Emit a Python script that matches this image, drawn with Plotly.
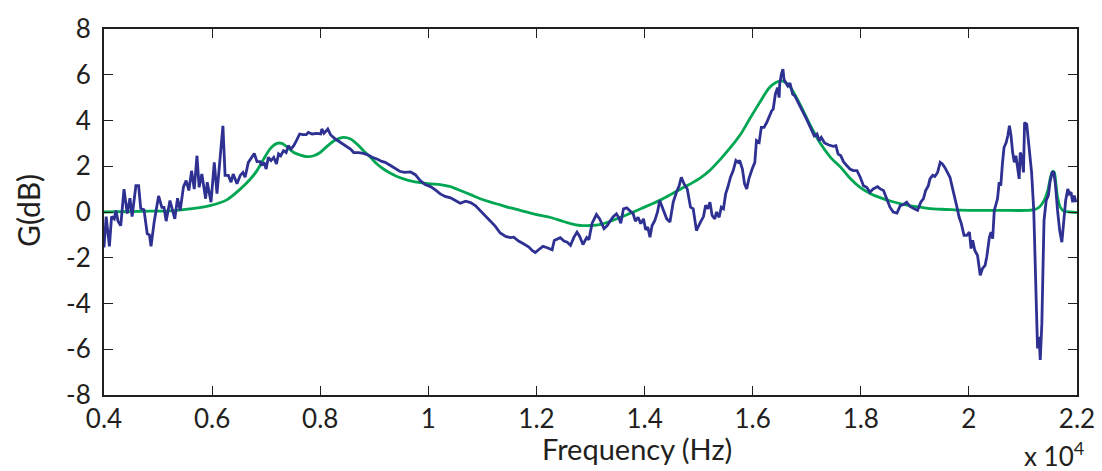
import plotly.graph_objects as go

# Frequency in units of 10^4 Hz, gain in dB
meas_freq = [0.400,0.404,0.410,0.414,0.419,0.422,0.426,0.431,0.437,0.443,0.448,0.452,0.459,0.464,0.468,0.474,0.480,0.484,0.487,0.493,
0.501,0.507,0.511,0.515,0.522,0.527,0.531,0.536,0.541,0.547,0.552,0.557,0.562,0.567,0.572,0.576,0.581,0.588,0.591,0.598,
0.604,0.609,0.614,0.618,0.620,0.624,0.630,0.635,0.639,0.646,0.652,0.657,0.661,0.667,0.678,0.683,0.689,0.692,0.696,0.700,
0.704,0.709,0.714,0.719,0.723,0.727,0.732,0.737,0.741,0.746,0.751,0.756,0.762,0.768,0.774,0.778,0.785,0.794,0.801,0.803,
0.807,0.814,0.819,0.828,0.837,0.846,0.856,0.862,0.871,0.880,0.888,0.896,0.905,0.914,0.920,0.930,0.939,0.947,0.956,0.967,
0.976,0.985,0.994,1.004,1.013,1.022,1.031,1.041,1.050,1.059,1.069,1.078,1.087,1.096,1.106,1.115,1.124,1.133,1.143,1.152,
1.158,1.167,1.176,1.186,1.192,1.198,1.204,1.212,1.220,1.229,1.233,1.241,1.244,1.251,1.257,1.263,1.269,1.275,1.280,1.286,
1.293,1.297,1.303,1.311,1.317,1.325,1.331,1.337,1.342,1.348,1.352,1.356,1.361,1.367,1.373,1.379,1.383,1.388,1.393,1.398,
1.402,1.406,1.410,1.414,1.419,1.424,1.428,1.435,1.441,1.447,1.453,1.459,1.464,1.468,1.473,1.479,1.485,1.490,1.496,1.502,
1.509,1.513,1.517,1.521,1.525,1.530,1.533,1.538,1.542,1.546,1.550,1.554,1.559,1.564,1.569,1.573,1.576,1.581,1.585,1.589,
1.593,1.599,1.604,1.607,1.612,1.616,1.621,1.626,1.630,1.635,1.638,1.642,1.646,1.649,1.650,1.653,1.656,1.658,1.661,1.665,
1.669,1.674,1.678,1.683,1.689,1.695,1.701,1.707,1.714,1.719,1.723,1.727,1.733,1.741,1.749,1.754,1.758,1.763,1.768,1.774,
1.780,1.786,1.793,1.799,1.805,1.811,1.817,1.823,1.831,1.836,1.842,1.848,1.854,1.860,1.867,1.873,1.879,1.885,1.891,1.899,
1.905,1.911,1.916,1.920,1.925,1.928,1.933,1.937,1.942,1.947,1.951,1.956,1.960,1.965,1.970,1.974,1.978,1.982,1.986,1.991,
1.996,2.001,2.004,2.007,2.011,2.016,2.021,2.025,2.030,2.033,2.038,2.041,2.044,2.047,2.050,2.053,2.056,2.059,2.062,2.065,
2.069,2.072,2.075,2.078,2.081,2.084,2.087,2.090,2.093,2.095,2.098,2.101,2.103,2.107,2.112,2.116,2.120,2.122,2.125,2.127,
2.130,2.132,2.135,2.137,2.139,2.143,2.147,2.150,2.154,2.157,2.160,2.164,2.168,2.172,2.175,2.179,2.183,2.186,2.189,2.192,
2.195,2.198]
meas_gain = [-1.55,-0.2,-1.5,-0.2,-0.3,0.06,-0.4,-0.6,1.0,-0.07,0.6,-0.2,1.15,1.15,0.15,0.1,-0.95,-1.0,-1.5,-0.4,
0.7,0.2,0.2,-0.4,0.5,0.07,-0.3,0.6,0.07,1.1,1.37,0.94,1.8,1.0,2.46,1.08,1.66,0.58,1.3,0.43,
2.17,0.8,2.03,3.04,3.77,1.6,1.6,1.3,1.66,1.23,1.6,1.73,1.52,2.17,2.56,2.2,2.2,2.03,2.17,1.88,
2.39,2.25,2.39,2.1,2.54,2.46,2.68,2.6,2.9,2.75,2.9,3.12,3.41,3.38,3.38,3.48,3.41,3.44,3.41,3.63,
3.44,3.63,3.38,3.19,3.04,2.9,2.75,2.6,2.6,2.56,2.5,2.39,2.32,2.21,2.17,2.03,1.88,1.78,1.73,1.75,
1.63,1.37,1.2,1.11,0.97,0.79,0.68,0.62,0.5,0.38,0.47,0.41,0.28,0.07,-0.2,-0.4,-0.63,-0.92,-1.07,-1.12,
-1.1,-1.27,-1.39,-1.53,-1.68,-1.77,-1.65,-1.5,-1.56,-1.65,-1.24,-1.17,-1.12,-1.27,-1.32,-1.46,-1.12,-0.88,-1.07,-1.42,
-1.12,-1.21,-0.49,-0.11,-0.3,-0.73,-0.59,-0.37,-0.2,-0.08,-0.23,-0.49,0.14,0.18,0.07,-0.08,-0.4,-0.23,-0.51,-0.3,
-0.78,-0.66,-1.1,-0.59,-0.37,0.0,0.5,0.07,-0.3,-0.44,0.43,0.86,1.15,1.52,1.23,1.01,0.21,0.14,-0.81,-0.51,
-0.2,0.3,0.14,0.43,-0.15,-0.3,0.0,-0.23,0.21,0.14,0.79,1.08,1.52,1.81,2.25,2.17,2.25,1.88,1.23,1.01,
1.45,1.88,2.17,3.12,3.04,3.7,3.7,3.91,4.13,4.42,4.5,5.15,5.44,5.0,5.59,6.02,6.24,5.8,5.66,5.51,
5.63,5.15,5.08,4.86,4.57,4.28,3.99,3.7,3.33,3.41,3.12,3.26,3.02,2.93,2.87,2.9,2.54,2.46,2.2,2.03,
1.88,1.81,1.81,1.52,1.15,1.08,0.86,1.01,1.11,1.01,0.94,0.58,0.21,0.0,-0.05,0.28,0.33,0.43,0.24,0.14,
0.07,0.43,0.58,0.94,1.15,1.45,1.6,1.55,1.73,2.17,2.1,1.93,1.73,1.52,1.01,0.65,0.21,-0.23,-0.51,-1.02,
-1.02,-0.88,-1.6,-1.24,-1.68,-1.9,-2.77,-2.48,-2.33,-1.97,-1.1,-0.88,-1.17,0.07,0.36,0.58,1.3,1.15,2.1,2.82,
3.04,3.33,3.77,3.33,2.6,2.17,2.46,1.95,1.45,2.6,2.39,1.73,3.91,3.84,2.46,1.73,0.07,-2.11,-4.29,-5.96,
-5.46,-6.47,-4.87,-2.55,-0.37,0.5,0.72,1.3,1.73,1.73,1.23,0.07,-0.81,-1.32,-0.51,0.5,1.01,0.79,0.86,0.43,
0.72,0.43]

model_freq = [0.400,0.467,0.522,0.547,0.596,0.627,0.652,0.670,0.683,0.695,0.707,0.720,0.729,0.738,0.751,0.763,0.775,0.788,0.800,0.812,
0.828,0.843,0.856,0.868,0.880,0.893,0.905,0.917,0.930,0.942,0.954,0.967,0.985,1.004,1.022,1.041,1.059,1.078,1.096,1.115,
1.133,1.152,1.170,1.189,1.207,1.226,1.244,1.263,1.281,1.300,1.319,1.337,1.356,1.374,1.393,1.411,1.430,1.448,1.467,1.485,
1.504,1.522,1.541,1.559,1.578,1.596,1.615,1.630,1.643,1.653,1.663,1.674,1.689,1.707,1.726,1.744,1.763,1.781,1.800,1.819,
1.837,1.856,1.874,1.893,1.911,1.930,1.948,1.967,1.985,2.022,2.059,2.109,2.121,2.130,2.139,2.146,2.151,2.155,2.158,2.161,
2.164,2.169,2.176,2.189,2.200]
model_gain = [0.0,0.03,0.05,0.1,0.28,0.53,1.0,1.42,1.81,2.3,2.75,3.0,3.0,2.86,2.6,2.49,2.42,2.46,2.6,2.86,
3.15,3.26,3.19,2.97,2.68,2.39,2.1,1.88,1.69,1.55,1.45,1.36,1.28,1.23,1.2,1.11,0.94,0.76,0.58,0.43,
0.31,0.18,0.07,-0.05,-0.15,-0.24,-0.37,-0.51,-0.59,-0.59,-0.54,-0.4,-0.23,-0.05,0.14,0.33,0.53,0.76,1.01,1.23,
1.5,1.85,2.32,2.82,3.41,4.13,4.86,5.41,5.66,5.73,5.63,5.3,4.64,3.77,2.97,2.39,1.95,1.45,1.05,0.79,
0.62,0.47,0.36,0.27,0.21,0.15,0.12,0.1,0.08,0.07,0.07,0.07,0.1,0.21,0.5,0.94,1.52,1.78,1.73,1.23,
0.65,0.21,0.03,0.0,-0.03]

x_ticks = [0.4, 0.6, 0.8, 1.0, 1.2, 1.4, 1.6, 1.8, 2.0, 2.2]
x_tick_labels = ["0.4", "0.6", "0.8", "1", "1.2", "1.4", "1.6", "1.8", "2", "2.2"]
y_ticks = [-8, -6, -4, -2, 0, 2, 4, 6, 8]
y_tick_labels = ["-8", "-6", "-4", "-2", "0", "2", "4", "6", "8"]

FONT = "Lato, 'Open Sans', sans-serif"
INK = "#231F20"

W, H = 1102, 471
L, R, T, B = 104, 1102 - 1077, 29, 471 - 395
PW, PH = W - L - R, H - T - B


def px_to_paper(px, py):
    return (px - L) / PW, (H - B - py) / PH


fig = go.Figure()
fig.add_trace(go.Scatter(x=model_freq, y=model_gain, mode="lines",
                         line=dict(color="#00A651", width=2.8, shape="spline", smoothing=0.8),
                         showlegend=False))
fig.add_trace(go.Scatter(x=meas_freq, y=meas_gain, mode="lines",
                         line=dict(color="#2E3192", width=2.8),
                         showlegend=False))

axis_common = dict(showline=True, linecolor=INK, linewidth=2, mirror="ticks",
                   ticks="inside", ticklen=9, tickwidth=1.2, tickcolor=INK,
                   showgrid=False, zeroline=False, automargin=False,
                   tickfont=dict(family=FONT, size=26, color=INK))

fig.update_xaxes(range=[0.4, 2.2], tickvals=x_ticks, ticktext=x_tick_labels,
                 ticklabelstandoff=0, **axis_common)
fig.update_yaxes(range=[-8, 8], tickvals=y_ticks, ticktext=y_tick_labels,
                 ticklabelstandoff=6, **axis_common)

xa, ya = px_to_paper(637, 448)
xb, yb = px_to_paper(28, 211)
xc, yc = px_to_paper(1054, 454)

fig.update_layout(
    width=W, height=H,
    margin=dict(l=L, r=R, t=T, b=B, autoexpand=False),
    paper_bgcolor="white", plot_bgcolor="white",
    font=dict(family=FONT, color=INK),
    annotations=[
        dict(text="Frequency (Hz)", x=xa, y=ya, xref="paper", yref="paper",
             xanchor="center", yanchor="middle", showarrow=False,
             font=dict(size=29, family=FONT, color=INK)),
        dict(text="G(dB)", x=xb, y=yb, xref="paper", yref="paper",
             xanchor="center", yanchor="middle", showarrow=False, textangle=-90,
             font=dict(size=30, family=FONT, color=INK)),
        dict(text="x 10<sup>4</sup>", x=xc, y=yc, xref="paper", yref="paper",
             xanchor="center", yanchor="middle", showarrow=False,
             font=dict(size=26, family=FONT, color=INK)),
    ],
)

# Remove the default page margin so the 1102x471 figure fills the window exactly.
fig.write_html("out.html", config={"displayModeBar": False},
               post_script="document.body.style.margin='0';document.body.style.overflow='hidden';")
